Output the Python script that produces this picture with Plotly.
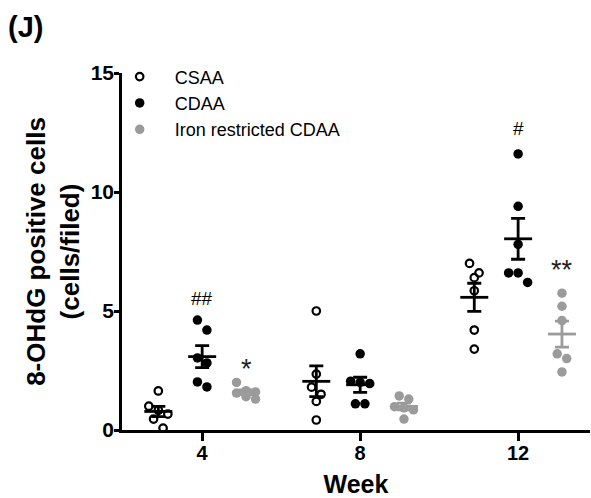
import numpy as np
import plotly.graph_objects as go

weeks = [4, 8, 12]
groups = ["CSAA", "CDAA", "Iron restricted CDAA"]

csaa_w4 = [1.64, 1.0, 0.83, 0.67, 0.46, 0.08]
csaa_w8 = [5.0, 2.35, 1.8, 1.5, 1.2, 0.42]
csaa_w12 = [7.0, 6.6, 6.4, 5.85, 4.2, 3.4]

cdaa_w4 = [4.62, 4.2, 3.03, 2.82, 2.02, 1.81]
cdaa_w8 = [3.2, 2.05, 2.0, 1.95, 1.1, 1.1]
cdaa_w12 = [11.6, 9.4, 7.8, 6.6, 6.6, 6.2]

iron_w4 = [2.0, 1.65, 1.6, 1.55, 1.4, 1.3]
iron_w8 = [1.43, 1.3, 0.98, 0.93, 0.85, 0.46]
iron_w12 = [5.75, 5.2, 4.6, 3.2, 3.0, 2.44]

sig_csaa = ["", "", ""]
sig_cdaa = ["##", "", "#"]
sig_iron = ["*", "", "**"]

data = {
    "CSAA": [csaa_w4, csaa_w8, csaa_w12],
    "CDAA": [cdaa_w4, cdaa_w8, cdaa_w12],
    "Iron restricted CDAA": [iron_w4, iron_w8, iron_w12],
}
sigs = {"CSAA": sig_csaa, "CDAA": sig_cdaa, "Iron restricted CDAA": sig_iron}

GRAY = "#9b9b9b"
style = {
    "CSAA": dict(marker=dict(symbol="circle-open", size=7.5, color="black", line=dict(width=2.2, color="black")), line="black"),
    "CDAA": dict(marker=dict(symbol="circle", size=9.5, color="black"), line="black"),
    "Iron restricted CDAA": dict(marker=dict(symbol="circle", size=9.5, color=GRAY), line=GRAY),
}
group_offset = {"CSAA": -1.11, "CDAA": 0.0, "Iron restricted CDAA": 1.11}
sig_shift = {"##": 22, "#": 25, "*": 13, "**": 23}

# plot geometry (for beeswarm spreading)
W, H = 591, 498
ML, MR, MT, MB = 122, 1, 73, 68
XR = [1.97, 13.82]
YR = [0, 15]
px_x = (W - ML - MR) / (XR[1] - XR[0])
px_y = (H - MT - MB) / (YR[1] - YR[0])
D = 9.5  # marker diameter in px


def swarm(vals):
    order = np.argsort(vals)[::-1]
    offs = np.zeros(len(vals))
    rows = []
    for i in order:
        if rows and (vals[rows[-1][0]] - vals[i]) * px_y < 1.1 * D:
            rows[-1].append(i)
        else:
            rows.append([i])
    for r in rows:
        n = len(r)
        for k, i in enumerate(r):
            offs[i] = (k - (n - 1) / 2) * D / px_x
    return offs


fig = go.Figure()

for g in groups:
    xs, ys = [], []
    for w, vals in zip(weeks, data[g]):
        v = np.array(vals)
        c = w + group_offset[g]
        xs += list(c + swarm(v))
        ys += list(v)
    fig.add_trace(go.Scatter(x=xs, y=ys, mode="markers", name=g, marker=style[g]["marker"],
                             showlegend=True))

for g in groups:
    mx, my, cx, cm, cs = [], [], [], [], []
    for w, vals in zip(weeks, data[g]):
        v = np.array(vals)
        c = w + group_offset[g]
        m = v.mean()
        s = v.std(ddof=1) / np.sqrt(len(v))
        hw = 14 / px_x
        mx += [c - hw, c + hw, None]
        my += [m, m, None]
        cx.append(c)
        cm.append(m)
        cs.append(s)
    fig.add_trace(go.Scatter(x=mx, y=my, mode="lines", line=dict(color=style[g]["line"], width=2.8),
                             showlegend=False, hoverinfo="skip"))
    fig.add_trace(go.Scatter(x=cx, y=cm, mode="markers", marker=dict(color="rgba(0,0,0,0)", size=1),
                             error_y=dict(type="data", array=cs, visible=True, color=style[g]["line"],
                                          thickness=2.8, width=7),
                             showlegend=False, hoverinfo="skip"))

# significance marks
for g in groups:
    for w, vals, s in zip(weeks, data[g], sigs[g]):
        if not s:
            continue
        c = w + group_offset[g]
        star = "*" in s
        fig.add_annotation(x=c, y=max(vals), text=s, showarrow=False, yanchor="middle",
                           yshift=sig_shift[s],
                           font=dict(family="Liberation Sans", size=27 if star else 19,
                                     color="#222222" if star else "black"))

fig.add_annotation(x=-0.248, y=1.13, xref="paper", yref="paper", text="(J)", showarrow=False,
                   xanchor="left", yanchor="middle",
                   font=dict(family="Liberation Sans", size=29, color="black", weight="bold"))

fig.update_layout(
    width=W, height=H,
    margin=dict(l=ML, r=MR, t=MT, b=MB, autoexpand=False),
    plot_bgcolor="white", paper_bgcolor="white",
    font=dict(family="Liberation Sans", color="black"),
    showlegend=True,
    legend=dict(x=-0.037, y=1.041, xanchor="left", yanchor="top", bgcolor="rgba(0,0,0,0)",
                font=dict(family="Liberation Sans", size=18, color="black"),
                itemwidth=60, tracegroupgap=0),
    xaxis=dict(range=XR, tickvals=weeks, ticktext=[str(w) for w in weeks], showgrid=False,
               zeroline=False, showline=True, linecolor="black", linewidth=2.5,
               ticks="outside", ticklen=8, tickwidth=2.5, tickcolor="black", ticklabelstandoff=-5,
               tickfont=dict(family="Liberation Sans", size=20, color="black", weight="bold"),
               title=dict(text="Week", standoff=14,
                          font=dict(family="Liberation Sans", size=25, color="black", weight="bold"))),
    yaxis=dict(range=YR, tickvals=[0, 5, 10, 15], showgrid=False, zeroline=False, showline=True,
               linecolor="black", linewidth=2.5, ticks="outside", ticklen=5, tickwidth=2.5,
               tickcolor="black", ticklabelstandoff=-4,
               tickfont=dict(family="Liberation Sans", size=21, color="black", weight="bold"),
               title=dict(text="8-OHdG positive cells<br>(cells/filed)", standoff=4,
                          font=dict(family="Liberation Sans", size=26, color="black", weight="bold"))),
)

fig.write_html("out.html", config={"displayModeBar": False},
               post_script="document.body.style.margin='0';")
